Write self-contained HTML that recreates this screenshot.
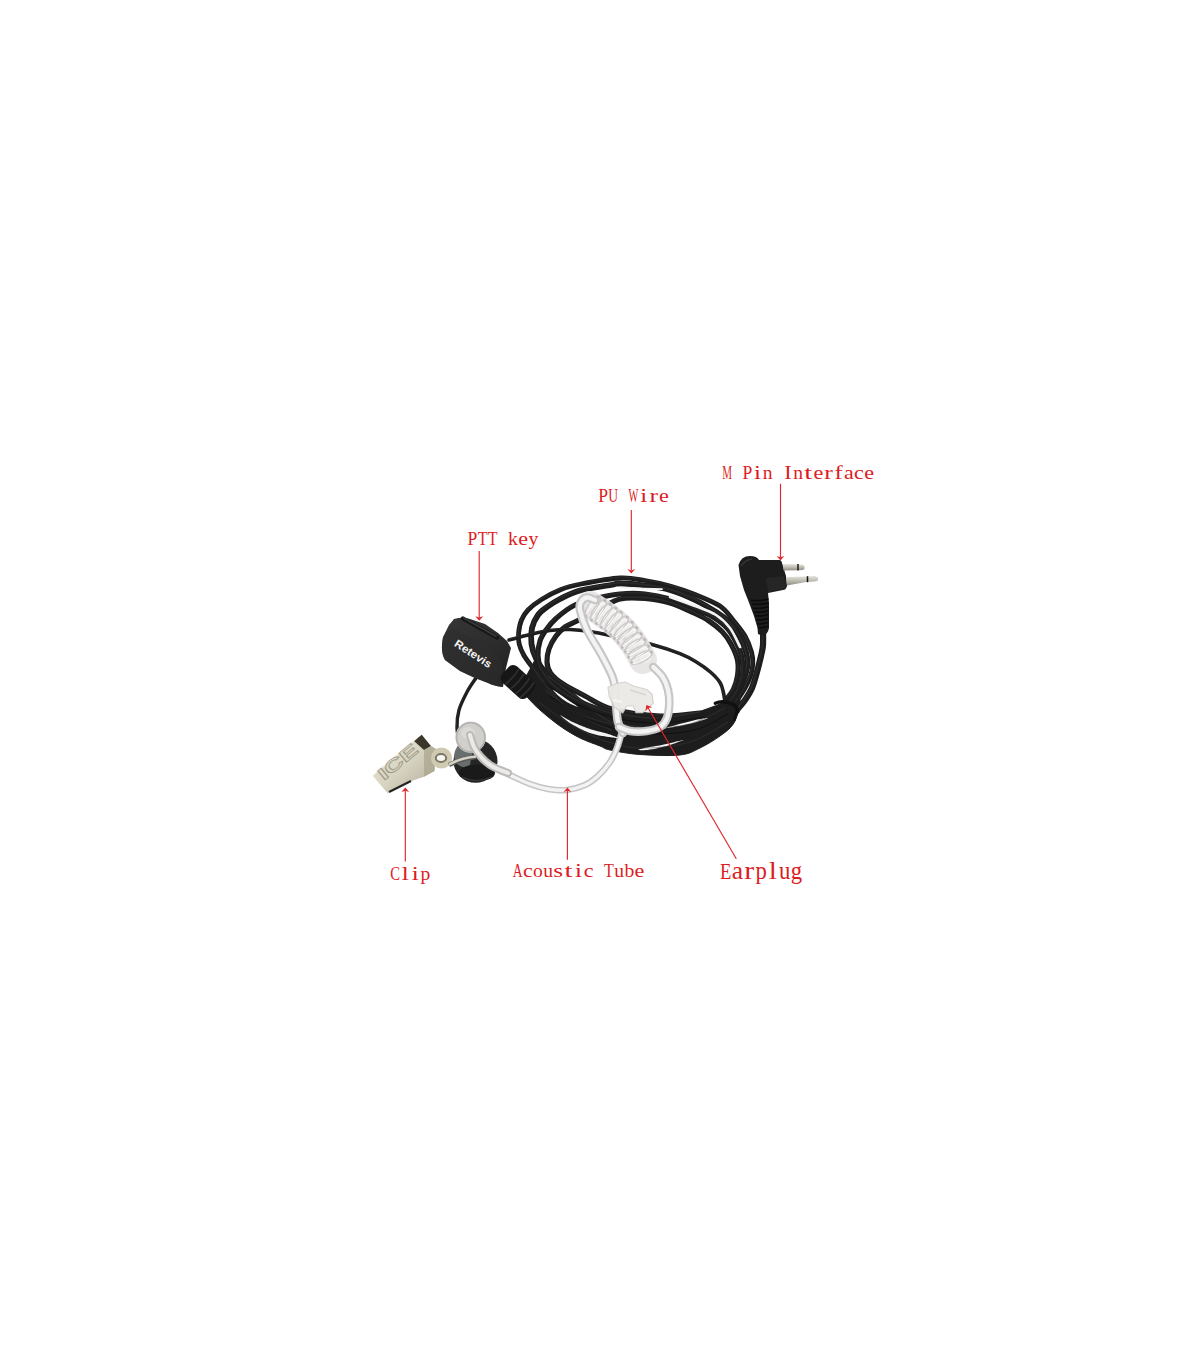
<!DOCTYPE html>
<html><head><meta charset="utf-8">
<style>
html,body{margin:0;padding:0;background:#fff;}
body{width:1200px;height:1372px;overflow:hidden;}
svg{display:block;}
.lb{font-family:"Liberation Serif",serif;fill:#dc1c24;}
.ls{font-family:"Liberation Serif",serif;fill:#e2262c;}
.ar{stroke:#e0262c;stroke-width:1.15;fill:none;}
.ah{fill:#e0262c;}
</style></head>
<body>
<svg width="1200" height="1372" viewBox="0 0 1200 1372">
<rect x="0" y="0" width="1200" height="1372" fill="#fff"/>
<g id="photo">
<path d="M476.0 678.0 C474.5 680.3 469.8 686.7 467.0 692.0 C464.2 697.3 460.7 704.0 459.0 710.0 C457.3 716.0 456.8 722.2 457.0 728.0 C457.2 733.8 459.5 742.2 460.0 745.0" fill="none" stroke="#1d1d1d" stroke-width="3.4" stroke-linecap="round" stroke-linejoin="round"/>
<path d="M476.0 678.0 C474.5 680.3 469.8 686.7 467.0 692.0 C464.2 697.3 460.7 704.0 459.0 710.0 C457.3 716.0 456.8 722.2 457.0 728.0 C457.2 733.8 459.5 742.2 460.0 745.0" fill="none" stroke="#4a4a4a" stroke-width="0.95" stroke-linecap="round" opacity="0.3" transform="translate(-0.5,-0.9)"/>
<path d="M536.0 658.0 C538.3 661.3 544.3 672.0 550.0 678.0 C555.7 684.0 563.3 689.7 570.0 694.0 C576.7 698.3 583.3 701.5 590.0 704.0 C596.7 706.5 601.7 707.5 610.0 709.0 C618.3 710.5 628.3 712.1 640.0 713.3 C651.7 714.5 667.8 717.1 680.0 716.0 C692.2 714.9 705.2 709.4 713.0 706.7 C720.8 704.0 722.8 702.3 727.0 700.0 C731.2 697.7 736.2 694.2 738.0 693.0 L741 704 C739.7 707.3 736.8 718.7 733.3 724.0 C729.8 729.3 725.5 732.0 720.0 736.0 C714.5 740.0 706.7 744.8 700.0 748.0 C693.3 751.2 690.0 753.9 680.0 755.0 C670.0 756.1 651.7 755.3 640.0 754.5 C628.3 753.7 616.7 751.4 610.0 750.0 C603.3 748.6 605.0 748.0 600.0 746.0 C595.0 744.0 586.7 741.3 580.0 738.0 C573.3 734.7 566.7 730.7 560.0 726.0 C553.3 721.3 545.3 714.7 540.0 710.0 C534.7 705.3 531.3 701.7 528.0 698.0 C524.7 694.3 521.3 689.7 520.0 688.0 Z" fill="#1d1d1d" stroke="#1d1d1d" stroke-width="1" stroke-linejoin="round"/>
<path d="M612.0 731.0 C608.3 729.3 597.0 724.5 590.0 721.0 C583.0 717.5 575.3 713.5 570.0 710.0 C564.7 706.5 562.2 704.2 558.0 700.0 C553.8 695.8 549.0 689.6 545.0 684.5 C541.0 679.4 537.5 674.3 534.0 669.5 C530.5 664.7 526.5 659.8 524.0 655.5 C521.5 651.2 520.1 647.8 519.2 644.0 C518.3 640.2 518.2 637.0 518.6 633.0 C519.0 629.0 519.9 623.8 521.5 620.0 C523.1 616.2 524.7 613.4 528.0 610.0 C531.3 606.6 536.0 602.9 541.5 599.5 C547.0 596.1 554.4 592.1 561.0 589.5 C567.6 586.9 571.2 585.9 581.0 584.0 C590.8 582.1 609.3 578.6 620.0 578.0 C630.7 577.4 636.7 579.2 645.0 580.5 C653.3 581.8 661.7 583.7 670.0 586.0 C678.3 588.3 686.7 591.2 695.0 594.5 C703.3 597.8 713.7 601.8 720.0 606.0 C726.3 610.2 728.8 615.0 733.0 620.0 C737.2 625.0 741.9 630.7 745.0 636.0 C748.1 641.3 750.2 647.3 751.5 652.0 C752.8 656.7 753.0 660.0 752.8 664.0 C752.6 668.0 751.8 672.0 750.5 676.0 C749.2 680.0 747.4 683.7 745.0 688.0 C742.6 692.3 737.5 699.7 736.0 702.0" fill="none" stroke="#1d1d1d" stroke-width="4.8" stroke-linecap="round" stroke-linejoin="round"/>
<path d="M612.0 731.0 C608.3 729.3 597.0 724.5 590.0 721.0 C583.0 717.5 575.3 713.5 570.0 710.0 C564.7 706.5 562.2 704.2 558.0 700.0 C553.8 695.8 549.0 689.6 545.0 684.5 C541.0 679.4 537.5 674.3 534.0 669.5 C530.5 664.7 526.5 659.8 524.0 655.5 C521.5 651.2 520.1 647.8 519.2 644.0 C518.3 640.2 518.2 637.0 518.6 633.0 C519.0 629.0 519.9 623.8 521.5 620.0 C523.1 616.2 524.7 613.4 528.0 610.0 C531.3 606.6 536.0 602.9 541.5 599.5 C547.0 596.1 554.4 592.1 561.0 589.5 C567.6 586.9 571.2 585.9 581.0 584.0 C590.8 582.1 609.3 578.6 620.0 578.0 C630.7 577.4 636.7 579.2 645.0 580.5 C653.3 581.8 661.7 583.7 670.0 586.0 C678.3 588.3 686.7 591.2 695.0 594.5 C703.3 597.8 713.7 601.8 720.0 606.0 C726.3 610.2 728.8 615.0 733.0 620.0 C737.2 625.0 741.9 630.7 745.0 636.0 C748.1 641.3 750.2 647.3 751.5 652.0 C752.8 656.7 753.0 660.0 752.8 664.0 C752.6 668.0 751.8 672.0 750.5 676.0 C749.2 680.0 747.4 683.7 745.0 688.0 C742.6 692.3 737.5 699.7 736.0 702.0" fill="none" stroke="#4a4a4a" stroke-width="1.34" stroke-linecap="round" opacity="0.3" transform="translate(-0.5,-0.9)"/>
<path d="M650.0 729.0 C643.7 728.0 622.0 726.3 612.0 723.0 C602.0 719.7 595.7 712.8 590.0 709.0 C584.3 705.2 582.5 703.6 578.0 700.0 C573.5 696.4 568.3 692.0 563.0 687.5 C557.7 683.0 550.5 677.8 546.0 673.0 C541.5 668.2 538.4 663.3 536.0 658.5 C533.6 653.7 532.2 649.1 531.5 644.0 C530.8 638.9 530.9 632.8 532.0 628.0 C533.1 623.2 535.5 618.5 538.0 615.0 C540.5 611.5 543.3 609.7 547.0 607.0 C550.7 604.3 554.5 601.8 560.0 599.0 C565.5 596.2 571.5 592.8 580.0 590.5 C588.5 588.2 604.3 586.2 611.0 585.0 C617.7 583.8 614.3 583.4 620.0 583.5 C625.7 583.6 636.7 584.4 645.0 585.5 C653.3 586.6 661.7 587.6 670.0 590.0 C678.3 592.4 687.3 596.3 695.0 600.0 C702.7 603.7 710.5 608.5 716.0 612.0 C721.5 615.5 724.0 616.8 728.0 621.0 C732.0 625.2 737.0 631.8 740.0 637.0 C743.0 642.2 744.8 647.5 746.0 652.0 C747.2 656.5 747.7 660.0 747.5 664.0 C747.3 668.0 746.2 672.0 745.0 676.0 C743.8 680.0 742.2 684.0 740.0 688.0 C737.8 692.0 733.3 698.0 732.0 700.0" fill="none" stroke="#1d1d1d" stroke-width="5.8" stroke-linecap="round" stroke-linejoin="round"/>
<path d="M650.0 729.0 C643.7 728.0 622.0 726.3 612.0 723.0 C602.0 719.7 595.7 712.8 590.0 709.0 C584.3 705.2 582.5 703.6 578.0 700.0 C573.5 696.4 568.3 692.0 563.0 687.5 C557.7 683.0 550.5 677.8 546.0 673.0 C541.5 668.2 538.4 663.3 536.0 658.5 C533.6 653.7 532.2 649.1 531.5 644.0 C530.8 638.9 530.9 632.8 532.0 628.0 C533.1 623.2 535.5 618.5 538.0 615.0 C540.5 611.5 543.3 609.7 547.0 607.0 C550.7 604.3 554.5 601.8 560.0 599.0 C565.5 596.2 571.5 592.8 580.0 590.5 C588.5 588.2 604.3 586.2 611.0 585.0 C617.7 583.8 614.3 583.4 620.0 583.5 C625.7 583.6 636.7 584.4 645.0 585.5 C653.3 586.6 661.7 587.6 670.0 590.0 C678.3 592.4 687.3 596.3 695.0 600.0 C702.7 603.7 710.5 608.5 716.0 612.0 C721.5 615.5 724.0 616.8 728.0 621.0 C732.0 625.2 737.0 631.8 740.0 637.0 C743.0 642.2 744.8 647.5 746.0 652.0 C747.2 656.5 747.7 660.0 747.5 664.0 C747.3 668.0 746.2 672.0 745.0 676.0 C743.8 680.0 742.2 684.0 740.0 688.0 C737.8 692.0 733.3 698.0 732.0 700.0" fill="none" stroke="#4a4a4a" stroke-width="1.62" stroke-linecap="round" opacity="0.3" transform="translate(-0.5,-0.9)"/>
<path d="M650.0 719.0 C643.7 718.2 623.7 716.8 612.0 714.0 C600.3 711.2 589.3 706.3 580.0 702.0 C570.7 697.7 562.5 693.5 556.0 688.0 C549.5 682.5 544.0 674.5 541.0 669.0 C538.0 663.5 538.2 659.7 538.0 655.0 C537.8 650.3 538.7 645.2 540.0 641.0 C541.3 636.8 543.3 633.8 546.0 630.0 C548.7 626.2 551.3 622.6 556.0 618.5 C560.7 614.4 566.7 609.0 574.0 605.5 C581.3 602.0 592.3 599.4 600.0 597.5 C607.7 595.6 612.5 594.6 620.0 594.0 C627.5 593.4 636.7 593.2 645.0 594.0 C653.3 594.8 661.7 596.5 670.0 599.0 C678.3 601.5 687.8 606.0 695.0 609.0 C702.2 612.0 707.7 613.8 713.0 617.0 C718.3 620.2 723.2 623.8 727.0 628.0 C730.8 632.2 733.5 637.0 736.0 642.0 C738.5 647.0 740.9 652.3 742.0 658.0 C743.1 663.7 743.2 670.7 742.5 676.0 C741.8 681.3 740.1 685.7 738.0 690.0 C735.9 694.3 731.3 700.0 730.0 702.0" fill="none" stroke="#1d1d1d" stroke-width="5.2" stroke-linecap="round" stroke-linejoin="round"/>
<path d="M650.0 719.0 C643.7 718.2 623.7 716.8 612.0 714.0 C600.3 711.2 589.3 706.3 580.0 702.0 C570.7 697.7 562.5 693.5 556.0 688.0 C549.5 682.5 544.0 674.5 541.0 669.0 C538.0 663.5 538.2 659.7 538.0 655.0 C537.8 650.3 538.7 645.2 540.0 641.0 C541.3 636.8 543.3 633.8 546.0 630.0 C548.7 626.2 551.3 622.6 556.0 618.5 C560.7 614.4 566.7 609.0 574.0 605.5 C581.3 602.0 592.3 599.4 600.0 597.5 C607.7 595.6 612.5 594.6 620.0 594.0 C627.5 593.4 636.7 593.2 645.0 594.0 C653.3 594.8 661.7 596.5 670.0 599.0 C678.3 601.5 687.8 606.0 695.0 609.0 C702.2 612.0 707.7 613.8 713.0 617.0 C718.3 620.2 723.2 623.8 727.0 628.0 C730.8 632.2 733.5 637.0 736.0 642.0 C738.5 647.0 740.9 652.3 742.0 658.0 C743.1 663.7 743.2 670.7 742.5 676.0 C741.8 681.3 740.1 685.7 738.0 690.0 C735.9 694.3 731.3 700.0 730.0 702.0" fill="none" stroke="#4a4a4a" stroke-width="1.46" stroke-linecap="round" opacity="0.3" transform="translate(-0.5,-0.9)"/>
<path d="M700.0 713.0 C693.3 713.5 674.7 716.7 660.0 716.0 C645.3 715.3 624.5 712.3 612.0 709.0 C599.5 705.7 593.2 700.2 585.0 696.0 C576.8 691.8 568.8 687.8 563.0 684.0 C557.2 680.2 553.2 676.7 550.5 673.0 C547.8 669.3 547.2 666.0 547.0 662.0 C546.8 658.0 547.5 653.3 549.0 649.0 C550.5 644.7 553.3 639.7 556.0 636.0 C558.7 632.3 561.3 629.6 565.0 627.0 C568.7 624.4 572.2 623.5 578.0 620.5 C583.8 617.5 593.0 612.6 600.0 609.0 C607.0 605.4 612.5 600.8 620.0 599.0 C627.5 597.2 636.7 597.8 645.0 598.5 C653.3 599.2 661.7 600.5 670.0 603.0 C678.3 605.5 688.5 610.5 695.0 613.5 C701.5 616.5 704.5 618.0 709.0 621.0 C713.5 624.0 718.3 627.7 722.0 631.5 C725.7 635.3 728.4 639.2 731.0 644.0 C733.6 648.8 736.4 654.7 737.5 660.0 C738.6 665.3 738.2 671.2 737.5 676.0 C736.8 680.8 735.4 685.0 733.5 689.0 C731.6 693.0 727.2 698.2 726.0 700.0" fill="none" stroke="#1d1d1d" stroke-width="5.2" stroke-linecap="round" stroke-linejoin="round"/>
<path d="M700.0 713.0 C693.3 713.5 674.7 716.7 660.0 716.0 C645.3 715.3 624.5 712.3 612.0 709.0 C599.5 705.7 593.2 700.2 585.0 696.0 C576.8 691.8 568.8 687.8 563.0 684.0 C557.2 680.2 553.2 676.7 550.5 673.0 C547.8 669.3 547.2 666.0 547.0 662.0 C546.8 658.0 547.5 653.3 549.0 649.0 C550.5 644.7 553.3 639.7 556.0 636.0 C558.7 632.3 561.3 629.6 565.0 627.0 C568.7 624.4 572.2 623.5 578.0 620.5 C583.8 617.5 593.0 612.6 600.0 609.0 C607.0 605.4 612.5 600.8 620.0 599.0 C627.5 597.2 636.7 597.8 645.0 598.5 C653.3 599.2 661.7 600.5 670.0 603.0 C678.3 605.5 688.5 610.5 695.0 613.5 C701.5 616.5 704.5 618.0 709.0 621.0 C713.5 624.0 718.3 627.7 722.0 631.5 C725.7 635.3 728.4 639.2 731.0 644.0 C733.6 648.8 736.4 654.7 737.5 660.0 C738.6 665.3 738.2 671.2 737.5 676.0 C736.8 680.8 735.4 685.0 733.5 689.0 C731.6 693.0 727.2 698.2 726.0 700.0" fill="none" stroke="#4a4a4a" stroke-width="1.46" stroke-linecap="round" opacity="0.3" transform="translate(-0.5,-0.9)"/>
<path d="M620.0 587.5 C623.3 587.7 633.0 588.2 640.0 588.5 C647.0 588.8 658.3 589.1 662.0 589.2" fill="none" stroke="#f4f4f4" stroke-width="1.8" stroke-linecap="round"/>
<path d="M670.0 597.0 C674.2 598.5 687.3 603.0 695.0 606.0 C702.7 609.0 710.2 611.3 716.0 615.0 C721.8 618.7 726.0 622.7 730.0 628.0 C734.0 633.3 738.3 643.8 740.0 647.0" fill="none" stroke="#f4f4f4" stroke-width="2.6" stroke-linecap="round"/>
<path d="M509.0 640.0 C512.5 639.1 523.2 636.1 530.0 634.5 C536.8 632.9 543.3 631.3 550.0 630.5 C556.7 629.7 563.3 629.3 570.0 629.5 C576.7 629.7 582.5 630.3 590.0 631.5 C597.5 632.7 604.7 634.3 615.0 636.5 C625.3 638.7 641.2 641.6 652.0 644.5 C662.8 647.4 672.7 650.8 680.0 653.7 C687.3 656.6 690.9 658.7 696.0 661.7 C701.1 664.8 706.4 668.5 710.4 672.0 C714.4 675.5 717.9 679.2 720.0 682.5 C722.1 685.8 722.5 688.8 723.3 692.0 C724.1 695.2 724.7 700.3 725.0 702.0" fill="none" stroke="#1d1d1d" stroke-width="3.6" stroke-linecap="round" stroke-linejoin="round"/>
<path d="M509.0 640.0 C512.5 639.1 523.2 636.1 530.0 634.5 C536.8 632.9 543.3 631.3 550.0 630.5 C556.7 629.7 563.3 629.3 570.0 629.5 C576.7 629.7 582.5 630.3 590.0 631.5 C597.5 632.7 604.7 634.3 615.0 636.5 C625.3 638.7 641.2 641.6 652.0 644.5 C662.8 647.4 672.7 650.8 680.0 653.7 C687.3 656.6 690.9 658.7 696.0 661.7 C701.1 664.8 706.4 668.5 710.4 672.0 C714.4 675.5 717.9 679.2 720.0 682.5 C722.1 685.8 722.5 688.8 723.3 692.0 C724.1 695.2 724.7 700.3 725.0 702.0" fill="none" stroke="#4a4a4a" stroke-width="1.01" stroke-linecap="round" opacity="0.3" transform="translate(-0.5,-0.9)"/>
<path d="M763.0 628.0 C763.0 630.8 763.3 640.3 763.0 645.0 C762.7 649.7 762.0 651.5 761.0 656.0 C760.0 660.5 758.5 666.7 757.0 672.0 C755.5 677.3 754.0 683.3 752.0 688.0 C750.0 692.7 747.5 696.3 745.0 700.0 C742.5 703.7 738.3 708.3 737.0 710.0" fill="none" stroke="#1d1d1d" stroke-width="6.2" stroke-linecap="round" stroke-linejoin="round"/>
<path d="M763.0 628.0 C763.0 630.8 763.3 640.3 763.0 645.0 C762.7 649.7 762.0 651.5 761.0 656.0 C760.0 660.5 758.5 666.7 757.0 672.0 C755.5 677.3 754.0 683.3 752.0 688.0 C750.0 692.7 747.5 696.3 745.0 700.0 C742.5 703.7 738.3 708.3 737.0 710.0" fill="none" stroke="#4a4a4a" stroke-width="1.74" stroke-linecap="round" opacity="0.3" transform="translate(-0.5,-0.9)"/>
<path d="M553.0 690.0 L553.5 690.7 L554.2 691.4 L555.0 692.3 L555.9 693.3 L557.0 694.4 L558.1 695.4 L559.3 696.5 L560.5 697.5 L561.7 698.5 L563.0 699.4 L564.2 700.3 L565.3 701.0 L566.4 701.7 L567.6 702.4 L568.8 703.1 L570.0 703.7 L571.2 704.3 L572.4 704.8 L573.6 705.3 L574.7 705.8 L575.7 706.2 L576.6 706.5 L577.4 706.8 L578.0 707.0 L578.0 707.0 L577.5 706.5 L576.8 706.0 L576.1 705.4 L575.2 704.8 L574.2 704.1 L573.2 703.4 L572.1 702.7 L571.0 702.0 L569.9 701.2 L568.8 700.4 L567.7 699.7 L566.7 699.0 L565.7 698.2 L564.5 697.3 L563.3 696.4 L562.0 695.5 L560.7 694.6 L559.4 693.7 L558.1 692.9 L556.9 692.1 L555.7 691.4 L554.7 690.8 L553.8 690.3 L553.0 690.0Z" fill="#f4f4f4"/>
<path d="M560.0 715.0 L560.5 715.5 L561.1 716.0 L561.8 716.7 L562.6 717.4 L563.5 718.2 L564.5 719.0 L565.6 719.8 L566.7 720.7 L567.8 721.6 L569.0 722.4 L570.2 723.2 L571.5 724.0 L572.7 724.8 L574.1 725.6 L575.5 726.3 L577.0 727.1 L578.5 727.9 L580.1 728.7 L581.7 729.4 L583.3 730.2 L584.8 730.9 L586.4 731.5 L587.9 732.2 L589.4 732.7 L590.8 733.2 L592.3 733.7 L593.7 734.1 L595.1 734.5 L596.5 734.8 L597.9 735.2 L599.3 735.4 L600.6 735.7 L601.9 735.9 L603.2 736.1 L604.4 736.3 L605.6 736.5 L606.9 736.7 L608.2 736.9 L609.5 737.1 L610.8 737.3 L612.1 737.5 L613.3 737.6 L614.5 737.8 L615.6 737.9 L616.6 737.9 L617.6 738.0 L618.3 738.0 L619.0 738.0 L619.0 738.0 L618.4 737.7 L617.7 737.4 L616.8 737.0 L615.9 736.7 L614.8 736.3 L613.7 735.9 L612.5 735.5 L611.3 735.1 L610.1 734.6 L608.8 734.2 L607.6 733.8 L606.4 733.5 L605.1 733.1 L603.9 732.7 L602.6 732.4 L601.3 732.1 L600.0 731.8 L598.7 731.5 L597.4 731.2 L596.1 730.8 L594.7 730.5 L593.4 730.1 L592.0 729.7 L590.6 729.3 L589.2 728.8 L587.7 728.2 L586.2 727.7 L584.6 727.1 L583.0 726.5 L581.4 725.8 L579.8 725.2 L578.3 724.5 L576.7 723.8 L575.3 723.2 L573.9 722.6 L572.5 722.0 L571.3 721.4 L570.0 720.7 L568.8 720.1 L567.6 719.4 L566.4 718.7 L565.2 718.0 L564.1 717.4 L563.1 716.7 L562.2 716.2 L561.4 715.7 L560.6 715.3 L560.0 715.0Z" fill="#f4f4f4"/>
<path d="M638.0 750.0 L639.1 750.1 L640.4 750.2 L642.0 750.2 L643.8 750.2 L645.7 750.1 L647.7 749.9 L649.8 749.6 L651.9 749.3 L654.1 748.9 L656.2 748.5 L658.3 748.1 L660.2 747.6 L662.3 747.1 L664.4 746.5 L666.7 745.9 L669.0 745.2 L671.3 744.4 L673.6 743.7 L675.8 743.0 L677.8 742.3 L679.7 741.6 L681.4 741.0 L682.9 740.4 L684.0 740.0 L684.0 740.0 L682.8 740.2 L681.3 740.5 L679.5 740.9 L677.6 741.3 L675.4 741.8 L673.2 742.4 L670.9 742.9 L668.5 743.5 L666.2 744.0 L663.9 744.5 L661.7 745.0 L659.8 745.4 L657.8 745.7 L655.7 746.1 L653.6 746.4 L651.5 746.7 L649.4 747.1 L647.3 747.4 L645.3 747.8 L643.5 748.2 L641.8 748.7 L640.3 749.1 L639.0 749.6 L638.0 750.0Z" fill="#f4f4f4"/>
<path d="M664.0 728.5 L665.2 728.4 L666.7 728.1 L668.5 727.9 L670.5 727.6 L672.6 727.2 L674.9 726.8 L677.3 726.3 L679.6 725.9 L681.9 725.4 L684.2 725.0 L686.3 724.5 L688.3 724.1 L690.1 723.7 L692.1 723.2 L694.0 722.8 L696.0 722.2 L697.9 721.7 L699.7 721.1 L701.5 720.6 L703.1 720.0 L704.6 719.4 L706.0 718.9 L707.1 718.4 L708.0 718.0 L708.0 718.0 L707.0 718.1 L705.8 718.2 L704.4 718.3 L702.8 718.6 L701.1 718.9 L699.3 719.2 L697.4 719.6 L695.4 720.0 L693.5 720.4 L691.5 720.9 L689.6 721.4 L687.7 721.9 L685.8 722.4 L683.7 722.9 L681.5 723.5 L679.2 724.1 L676.9 724.7 L674.6 725.4 L672.4 726.0 L670.3 726.6 L668.3 727.1 L666.6 727.6 L665.1 728.1 L664.0 728.5Z" fill="#f4f4f4"/>
<path d="M545.0 690.0 C550.0 693.7 563.8 706.3 575.0 712.0 C586.2 717.7 599.5 721.3 612.0 724.0 C624.5 726.7 637.0 728.0 650.0 728.0 C663.0 728.0 677.5 727.3 690.0 724.0 C702.5 720.7 719.2 710.7 725.0 708.0" fill="none" stroke="#3c3c3c" stroke-width="1.1" opacity="0.5"/>
<path d="M540.0 703.0 C545.0 706.5 559.2 717.7 570.0 724.0 C580.8 730.3 593.3 737.0 605.0 741.0 C616.7 745.0 625.8 747.8 640.0 748.0 C654.2 748.2 675.3 746.3 690.0 742.0 C704.7 737.7 721.7 725.3 728.0 722.0" fill="none" stroke="#3c3c3c" stroke-width="1.1" opacity="0.5"/>
<path d="M548.0 676.0 C553.3 679.8 568.0 692.8 580.0 699.0 C592.0 705.2 606.7 709.8 620.0 713.0 C633.3 716.2 646.7 718.2 660.0 718.0 C673.3 717.8 693.3 713.0 700.0 712.0" fill="none" stroke="#3c3c3c" stroke-width="1.1" opacity="0.5"/>
<path d="M550.0 696.0 C555.0 699.2 569.7 709.7 580.0 715.0 C590.3 720.3 600.3 724.8 612.0 728.0 C623.7 731.2 636.2 733.7 650.0 734.0 C663.8 734.3 682.0 733.3 695.0 730.0 C708.0 726.7 722.5 716.7 728.0 714.0" fill="none" stroke="#0c0c0c" stroke-width="1.0" opacity="0.8"/>
<path d="M545.0 683.0 C550.5 686.7 565.5 699.0 578.0 705.0 C590.5 711.0 606.3 716.0 620.0 719.0 C633.7 722.0 645.8 723.3 660.0 723.0 C674.2 722.7 697.5 718.0 705.0 717.0" fill="none" stroke="#0c0c0c" stroke-width="1.0" opacity="0.8"/>
<path d="M715.3 703.3 Q725 699 736 706.5 L737.7 712" stroke="#101010" stroke-width="3.4" fill="none" stroke-linecap="round"/>
<path d="M736.5 712 L734.5 720" stroke="#101010" stroke-width="2.6" stroke-linecap="round"/>
<defs><linearGradient id="pttg" x1="0" y1="0" x2="0.8" y2="1"><stop offset="0" stop-color="#363636"/><stop offset="0.6" stop-color="#2c2c2c"/><stop offset="1" stop-color="#222"/></linearGradient></defs>
<path d="M454 619 Q463 616 470 619 L485 624 L498 633 L507 641 L511 648 L506 668 L503 687 Q494 686 488 683 L475 678 L460 671 L445 660 Q440 652 443 637 L449 625 Z" fill="url(#pttg)"/>
<path d="M452 628 L482 643 L495 652 L502 664 L503 687 Q494 686 488 683 L475 678 L460 671 L445 660 Q440 652 443 637 Z" fill="#2d2d2d" opacity="0.6"/>
<path d="M463 618.5 L497 637.5" stroke="#151515" stroke-width="4.2" stroke-linecap="round"/>
<path d="M464 618.3 L496 636.3" stroke="#3a3a3a" stroke-width="1.8" stroke-linecap="round"/>
<text x="0" y="0" transform="translate(453.5,645.5) rotate(33)" font-family="Liberation Sans" font-weight="bold" font-size="11" fill="#f2f2f2" textLength="42" lengthAdjust="spacingAndGlyphs">Retevis</text>
<g transform="translate(518,682) rotate(42)"><rect x="-17" y="-11" width="34" height="22" rx="6" fill="#161616"/><path d="M-8 -10.5 Q-6 0 -8 10.5" stroke="#2e2e2e" stroke-width="1.8" fill="none"/><path d="M-1 -10.5 Q1 0 -1 10.5" stroke="#2e2e2e" stroke-width="1.8" fill="none"/><path d="M6 -10.5 Q8 0 6 10.5" stroke="#2e2e2e" stroke-width="1.8" fill="none"/><path d="M12 -10.5 Q14 0 12 10.5" stroke="#2e2e2e" stroke-width="1.8" fill="none"/></g>
<path d="M738.5 565 Q741 556 750 556 Q757 556 759 560 L780 560 Q782 561 782 563 L786 576 L787 586 Q786 590 783 590 L768 593 L769 603 L769 628 Q768 634 763 636 L758 634 L757.5 628 L754 616 L748 600 L744 590 L740 576 Z" fill="#1d1d1d"/>
<path d="M741 566 Q745 560 752 559" stroke="#3a3a3a" stroke-width="1.5" fill="none" opacity="0.8"/>
<path d="M766 578 L784 576 L786 588 L768 592 Z" fill="#262626"/>
<path d="M751.0 600.2 Q760 601.2 768.5 599.0" stroke="#0a0a0a" stroke-width="1.5" fill="none"/>
<path d="M752.0 604.1 Q760 605.1 768.5 602.9" stroke="#0a0a0a" stroke-width="1.5" fill="none"/>
<path d="M753.0 608.0 Q760 609.0 768.5 606.8" stroke="#0a0a0a" stroke-width="1.5" fill="none"/>
<path d="M754.0 611.9 Q760 612.9 768.5 610.7" stroke="#0a0a0a" stroke-width="1.5" fill="none"/>
<path d="M755.1 615.8 Q760 616.8 768.5 614.6" stroke="#0a0a0a" stroke-width="1.5" fill="none"/>
<path d="M756.1 619.7 Q760 620.7 768.5 618.5" stroke="#0a0a0a" stroke-width="1.5" fill="none"/>
<path d="M757.1 623.6 Q760 624.6 768.5 622.4" stroke="#0a0a0a" stroke-width="1.5" fill="none"/>
<path d="M758.1 627.5 Q760 628.5 768.5 626.3" stroke="#0a0a0a" stroke-width="1.5" fill="none"/>
<defs><linearGradient id="ping" x1="0" y1="0" x2="0" y2="1"><stop offset="0" stop-color="#e4e3dc"/><stop offset="0.45" stop-color="#c3c1b6"/><stop offset="1" stop-color="#8f8d84"/></linearGradient></defs>
<path d="M783 564 L797 564.3 L803 564.8 L804.5 566.5 L804.5 569 L803 570 L797 570.2 L783.5 570.5 Z" fill="url(#ping)"/>
<path d="M798 564 L798 570.5" stroke="#111" stroke-width="1.4"/>
<path d="M786.5 577 L806 576.5 L815 576 L818 577.5 L818 580.5 L815 581.5 L806 582 L787 585.5 Z" fill="url(#ping)"/>
<path d="M807.5 576.2 L807.5 582.2" stroke="#111" stroke-width="1.5"/>
<ellipse cx="475.5" cy="761" rx="22" ry="21.8" fill="#262626"/>
<path d="M454 756 Q455 744 466 740 L480 742 Q470 752 470 768 Q460 768 455 762 Z" fill="#6c7272" opacity="0.95"/>
<ellipse cx="477" cy="773" rx="18" ry="8.5" fill="#1a1a1a"/>
<path d="M462 777 Q476 784 492 777" stroke="#3a3a3a" stroke-width="1.2" fill="none"/>
<defs><linearGradient id="clipg" x1="0" y1="0" x2="1" y2="1"><stop offset="0" stop-color="#ebe8dc"/><stop offset="0.5" stop-color="#d9d5c3"/><stop offset="1" stop-color="#aeaa95"/></linearGradient></defs>
<path d="M372.7 775.7 L421.7 734.8 L429.8 745.3 L436 749 L434.5 771 L424 776.8 L410 781.5 L387.8 793.2 Z" fill="url(#clipg)"/>
<path d="M414 741 L421.7 734.8 L431 746 L424 750 Z" fill="#3a362b"/>
<path d="M424 750 L431 746 L436 749 L434.5 771 L424 776.8 Z" fill="#a9a48c" opacity="0.7"/>
<path d="M376 772 L417 738" stroke="#f2efe0" stroke-width="1.2" opacity="0.8"/>
<text x="0" y="0" transform="translate(384,781) rotate(-40)" font-family="Liberation Sans" font-size="17" font-weight="bold" fill="none" stroke="#8f8a76" stroke-width="0.8" opacity="0.8" textLength="46" lengthAdjust="spacingAndGlyphs">ICE</text>
<path d="M389 792 L411 781" stroke="#262420" stroke-width="2.2"/>
<circle cx="441.5" cy="758" r="10.5" fill="#cfcab2"/>
<ellipse cx="441" cy="758" rx="5.2" ry="4" fill="#f6f6f2" stroke="#7c7764" stroke-width="2"/>
<path d="M449 765 Q462 758 476 757" stroke="#5a5a58" stroke-width="4.6" fill="none"/>
<path d="M449 764.5 Q462 757.5 476 756.5" stroke="#d6d3c6" stroke-width="2.6" fill="none"/>
<ellipse cx="470.7" cy="737.2" rx="15.3" ry="15.6" fill="#d1cfcc"/>
<ellipse cx="470.7" cy="737.2" rx="14.2" ry="14.5" fill="none" stroke="#b3b1ad" stroke-width="1.6"/>
<ellipse cx="468" cy="733" rx="7" ry="6" fill="#dedcd9" opacity="0.8"/>
<circle cx="472" cy="739" r="3.6" fill="#bdbbb8"/>
<path d="M590.0 605.0 C592.5 606.7 599.8 611.2 605.0 615.0 C610.2 618.8 616.2 623.2 621.0 628.0 C625.8 632.8 630.3 638.7 634.0 644.0 C637.7 649.3 641.5 657.3 643.0 660.0" stroke="#e7e4e4" stroke-width="28" stroke-linecap="round" fill="none" opacity="0.96"/>
<path d="M590.0 605.0 C592.5 606.7 599.8 611.2 605.0 615.0 C610.2 618.8 616.2 623.2 621.0 628.0 C625.8 632.8 630.3 638.7 634.0 644.0 C637.7 649.3 641.5 657.3 643.0 660.0" stroke="#f2f0f0" stroke-width="11" stroke-linecap="round" fill="none" opacity="0.7" transform="translate(2.5,-2.5)"/>
<ellipse cx="592.5" cy="606.6" rx="12.6" ry="4.4" transform="rotate(122.6 592.5 606.6)" fill="none" stroke="#cdc8c8" stroke-width="1.4"/>
<ellipse cx="593.2" cy="605.7" rx="10.1" ry="2.3" transform="rotate(122.6 592.5 606.6)" fill="none" stroke="#faf9f9" stroke-width="1.2" opacity="0.85"/>
<circle cx="586.5" cy="615.9" r="1.1" fill="#8a8585" opacity="0.5"/>
<circle cx="598.4" cy="597.3" r="1.1" fill="#8a8585" opacity="0.5"/>
<ellipse cx="598.2" cy="610.3" rx="12.7" ry="4.4" transform="rotate(123.4 598.2 610.3)" fill="none" stroke="#cdc8c8" stroke-width="1.4"/>
<ellipse cx="598.9" cy="609.4" rx="10.2" ry="2.3" transform="rotate(123.4 598.2 610.3)" fill="none" stroke="#faf9f9" stroke-width="1.2" opacity="0.85"/>
<circle cx="592.0" cy="619.7" r="1.1" fill="#8a8585" opacity="0.5"/>
<circle cx="604.4" cy="600.9" r="1.1" fill="#8a8585" opacity="0.5"/>
<ellipse cx="603.4" cy="613.8" rx="12.9" ry="4.4" transform="rotate(125.4 603.4 613.8)" fill="none" stroke="#cdc8c8" stroke-width="1.4"/>
<ellipse cx="604.1" cy="612.9" rx="10.4" ry="2.3" transform="rotate(125.4 603.4 613.8)" fill="none" stroke="#faf9f9" stroke-width="1.2" opacity="0.85"/>
<circle cx="596.8" cy="623.1" r="1.1" fill="#8a8585" opacity="0.5"/>
<circle cx="610.0" cy="604.6" r="1.1" fill="#8a8585" opacity="0.5"/>
<ellipse cx="608.7" cy="617.8" rx="13.0" ry="4.4" transform="rotate(126.8 608.7 617.8)" fill="none" stroke="#cdc8c8" stroke-width="1.4"/>
<ellipse cx="609.4" cy="616.9" rx="10.5" ry="2.3" transform="rotate(126.8 608.7 617.8)" fill="none" stroke="#faf9f9" stroke-width="1.2" opacity="0.85"/>
<circle cx="601.8" cy="627.0" r="1.1" fill="#8a8585" opacity="0.5"/>
<circle cx="615.6" cy="608.6" r="1.1" fill="#8a8585" opacity="0.5"/>
<ellipse cx="613.7" cy="621.6" rx="13.1" ry="4.4" transform="rotate(128.5 613.7 621.6)" fill="none" stroke="#cdc8c8" stroke-width="1.4"/>
<ellipse cx="614.4" cy="620.7" rx="10.6" ry="2.3" transform="rotate(128.5 613.7 621.6)" fill="none" stroke="#faf9f9" stroke-width="1.2" opacity="0.85"/>
<circle cx="606.4" cy="630.7" r="1.1" fill="#8a8585" opacity="0.5"/>
<circle cx="620.9" cy="612.5" r="1.1" fill="#8a8585" opacity="0.5"/>
<ellipse cx="619.0" cy="626.1" rx="13.1" ry="4.4" transform="rotate(132.6 619.0 626.1)" fill="none" stroke="#cdc8c8" stroke-width="1.4"/>
<ellipse cx="619.7" cy="625.2" rx="10.6" ry="2.3" transform="rotate(132.6 619.0 626.1)" fill="none" stroke="#faf9f9" stroke-width="1.2" opacity="0.85"/>
<circle cx="611.1" cy="634.6" r="1.1" fill="#8a8585" opacity="0.5"/>
<circle cx="626.9" cy="617.5" r="1.1" fill="#8a8585" opacity="0.5"/>
<ellipse cx="623.4" cy="630.5" rx="13.0" ry="4.4" transform="rotate(137.4 623.4 630.5)" fill="none" stroke="#cdc8c8" stroke-width="1.4"/>
<ellipse cx="624.1" cy="629.6" rx="10.5" ry="2.3" transform="rotate(137.4 623.4 630.5)" fill="none" stroke="#faf9f9" stroke-width="1.2" opacity="0.85"/>
<circle cx="614.9" cy="638.3" r="1.1" fill="#8a8585" opacity="0.5"/>
<circle cx="631.8" cy="622.7" r="1.1" fill="#8a8585" opacity="0.5"/>
<ellipse cx="627.5" cy="635.3" rx="12.8" ry="4.4" transform="rotate(140.9 627.5 635.3)" fill="none" stroke="#cdc8c8" stroke-width="1.4"/>
<ellipse cx="628.2" cy="634.4" rx="10.3" ry="2.3" transform="rotate(140.9 627.5 635.3)" fill="none" stroke="#faf9f9" stroke-width="1.2" opacity="0.85"/>
<circle cx="618.7" cy="642.4" r="1.1" fill="#8a8585" opacity="0.5"/>
<circle cx="636.3" cy="628.1" r="1.1" fill="#8a8585" opacity="0.5"/>
<ellipse cx="631.7" cy="640.8" rx="12.7" ry="4.4" transform="rotate(144.0 631.7 640.8)" fill="none" stroke="#cdc8c8" stroke-width="1.4"/>
<ellipse cx="632.4" cy="639.9" rx="10.2" ry="2.3" transform="rotate(144.0 631.7 640.8)" fill="none" stroke="#faf9f9" stroke-width="1.2" opacity="0.85"/>
<circle cx="622.7" cy="647.3" r="1.1" fill="#8a8585" opacity="0.5"/>
<circle cx="640.7" cy="634.2" r="1.1" fill="#8a8585" opacity="0.5"/>
<ellipse cx="635.1" cy="645.7" rx="12.5" ry="4.4" transform="rotate(147.6 635.1 645.7)" fill="none" stroke="#cdc8c8" stroke-width="1.4"/>
<ellipse cx="635.8" cy="644.8" rx="10.0" ry="2.3" transform="rotate(147.6 635.1 645.7)" fill="none" stroke="#faf9f9" stroke-width="1.2" opacity="0.85"/>
<circle cx="625.8" cy="651.6" r="1.1" fill="#8a8585" opacity="0.5"/>
<circle cx="644.4" cy="639.8" r="1.1" fill="#8a8585" opacity="0.5"/>
<ellipse cx="638.7" cy="651.8" rx="12.4" ry="4.4" transform="rotate(151.4 638.7 651.8)" fill="none" stroke="#cdc8c8" stroke-width="1.4"/>
<ellipse cx="639.4" cy="650.9" rx="9.9" ry="2.3" transform="rotate(151.4 638.7 651.8)" fill="none" stroke="#faf9f9" stroke-width="1.2" opacity="0.85"/>
<circle cx="629.1" cy="657.0" r="1.1" fill="#8a8585" opacity="0.5"/>
<circle cx="648.2" cy="646.6" r="1.1" fill="#8a8585" opacity="0.5"/>
<ellipse cx="641.6" cy="657.4" rx="12.2" ry="4.4" transform="rotate(152.5 641.6 657.4)" fill="none" stroke="#cdc8c8" stroke-width="1.4"/>
<ellipse cx="642.3" cy="656.5" rx="9.7" ry="2.3" transform="rotate(152.5 641.6 657.4)" fill="none" stroke="#faf9f9" stroke-width="1.2" opacity="0.85"/>
<circle cx="632.1" cy="662.3" r="1.1" fill="#8a8585" opacity="0.5"/>
<circle cx="651.1" cy="652.4" r="1.1" fill="#8a8585" opacity="0.5"/>
<path d="M497.0 768.5 C499.5 769.8 506.5 773.4 512.0 776.0 C517.5 778.6 524.0 781.8 530.0 784.0 C536.0 786.2 541.8 788.0 548.0 789.0 C554.2 790.0 560.8 790.7 567.0 790.0 C573.2 789.3 579.8 787.3 585.0 785.0 C590.2 782.7 593.8 779.8 598.0 776.0 C602.2 772.2 606.8 766.7 610.0 762.0 C613.2 757.3 615.2 752.5 617.0 748.0 C618.8 743.5 620.3 737.2 621.0 735.0" fill="none" stroke="#c6c6c6" stroke-width="6.6" stroke-linecap="round"/>
<path d="M497.0 768.5 C499.5 769.8 506.5 773.4 512.0 776.0 C517.5 778.6 524.0 781.8 530.0 784.0 C536.0 786.2 541.8 788.0 548.0 789.0 C554.2 790.0 560.8 790.7 567.0 790.0 C573.2 789.3 579.8 787.3 585.0 785.0 C590.2 782.7 593.8 779.8 598.0 776.0 C602.2 772.2 606.8 766.7 610.0 762.0 C613.2 757.3 615.2 752.5 617.0 748.0 C618.8 743.5 620.3 737.2 621.0 735.0" fill="none" stroke="#f3f3f3" stroke-width="3.30" stroke-linecap="round"/>
<path d="M470.0 735.0 C470.7 737.0 472.2 743.3 474.0 747.0 C475.8 750.7 478.3 754.0 481.0 757.0 C483.7 760.0 487.0 762.9 490.0 765.0 C493.0 767.1 496.0 768.2 499.0 769.5 C502.0 770.8 506.5 772.4 508.0 773.0" fill="none" stroke="#bdbbb8" stroke-width="8" stroke-linecap="round"/>
<path d="M470.0 735.0 C470.7 737.0 472.2 743.3 474.0 747.0 C475.8 750.7 478.3 754.0 481.0 757.0 C483.7 760.0 487.0 762.9 490.0 765.0 C493.0 767.1 496.0 768.2 499.0 769.5 C502.0 770.8 506.5 772.4 508.0 773.0" fill="none" stroke="#eceae8" stroke-width="4.00" stroke-linecap="round"/>
<path d="M623.0 733.0 C622.2 731.2 619.2 726.8 618.0 722.0 C616.8 717.2 616.5 709.3 616.0 704.0 C615.5 698.7 615.6 694.5 615.0 690.0 C614.4 685.5 614.8 683.0 612.5 677.0 C610.2 671.0 605.2 661.8 601.0 654.0 C596.8 646.2 590.5 637.3 587.0 630.0 C583.5 622.7 581.0 614.7 580.0 610.0 C579.0 605.3 579.8 604.1 581.0 602.0 C582.2 599.9 584.7 597.8 587.0 597.5 C589.3 597.2 593.7 599.6 595.0 600.0" fill="none" stroke="#c6c6c6" stroke-width="8.6" stroke-linecap="round"/>
<path d="M623.0 733.0 C622.2 731.2 619.2 726.8 618.0 722.0 C616.8 717.2 616.5 709.3 616.0 704.0 C615.5 698.7 615.6 694.5 615.0 690.0 C614.4 685.5 614.8 683.0 612.5 677.0 C610.2 671.0 605.2 661.8 601.0 654.0 C596.8 646.2 590.5 637.3 587.0 630.0 C583.5 622.7 581.0 614.7 580.0 610.0 C579.0 605.3 579.8 604.1 581.0 602.0 C582.2 599.9 584.7 597.8 587.0 597.5 C589.3 597.2 593.7 599.6 595.0 600.0" fill="none" stroke="#f3f3f3" stroke-width="4.30" stroke-linecap="round"/>
<path d="M619.0 727.0 C620.8 727.7 625.4 730.3 630.0 731.0 C634.6 731.7 641.7 731.7 646.7 731.0 C651.7 730.3 656.6 729.2 660.0 727.0 C663.4 724.8 665.5 722.0 667.0 718.0 C668.5 714.0 669.1 708.0 669.3 703.3 C669.5 698.6 669.1 694.4 668.0 690.0 C666.9 685.6 665.2 680.8 662.7 677.0 C660.2 673.2 654.9 668.7 653.3 667.0" fill="none" stroke="#c6c6c6" stroke-width="8.6" stroke-linecap="round"/>
<path d="M619.0 727.0 C620.8 727.7 625.4 730.3 630.0 731.0 C634.6 731.7 641.7 731.7 646.7 731.0 C651.7 730.3 656.6 729.2 660.0 727.0 C663.4 724.8 665.5 722.0 667.0 718.0 C668.5 714.0 669.1 708.0 669.3 703.3 C669.5 698.6 669.1 694.4 668.0 690.0 C666.9 685.6 665.2 680.8 662.7 677.0 C660.2 673.2 654.9 668.7 653.3 667.0" fill="none" stroke="#f3f3f3" stroke-width="4.30" stroke-linecap="round"/>
<path d="M608 687.3 Q615 683 625.3 682 L633.3 686 L646.7 689.5 L652 694 L653.3 703.3 L646.7 708.7 L642.7 712.7 L636 712.7 L633.3 706 L626.7 706 L622.7 713 L614.7 707.3 L609.3 696.7 Z" fill="#ebe9e6" stroke="#d4d1cc" stroke-width="1.2" opacity="0.95"/>
<path d="M630 690 L646 695" stroke="#d6d3ce" stroke-width="1.4" opacity="0.9"/>
<path d="M613 700 L622 702" stroke="#f7f7f5" stroke-width="2" opacity="0.9"/>
</g>
<g id="labels">
<text class="lb" x="722.18" y="478.8" font-size="18.00" textLength="9.80" lengthAdjust="spacingAndGlyphs">M</text>
<text class="lb" x="742.48" y="478.8" font-size="18.00" textLength="9.80" lengthAdjust="spacingAndGlyphs">P</text>
<text class="lb" x="754.02" y="478.8" font-size="19.80" textLength="7.00" lengthAdjust="spacingAndGlyphs">i</text>
<text class="lb" x="762.77" y="478.8" font-size="19.80" textLength="9.80" lengthAdjust="spacingAndGlyphs">n</text>
<text class="lb" x="784.27" y="478.8" font-size="18.00" textLength="7.40" lengthAdjust="spacingAndGlyphs">I</text>
<text class="lb" x="793.23" y="478.8" font-size="19.80" textLength="9.80" lengthAdjust="spacingAndGlyphs">n</text>
<text class="lb" x="804.27" y="478.8" font-size="19.80" textLength="8.00" lengthAdjust="spacingAndGlyphs">t</text>
<text class="lb" x="813.52" y="478.8" font-size="19.80" textLength="9.80" lengthAdjust="spacingAndGlyphs">e</text>
<text class="lb" x="824.28" y="478.8" font-size="19.80" textLength="8.60" lengthAdjust="spacingAndGlyphs">r</text>
<text class="lb" x="834.62" y="478.8" font-size="19.80" textLength="8.20" lengthAdjust="spacingAndGlyphs">f</text>
<text class="lb" x="843.98" y="478.8" font-size="19.80" textLength="9.80" lengthAdjust="spacingAndGlyphs">a</text>
<text class="lb" x="854.12" y="478.8" font-size="19.80" textLength="9.80" lengthAdjust="spacingAndGlyphs">c</text>
<text class="lb" x="864.27" y="478.8" font-size="19.80" textLength="9.80" lengthAdjust="spacingAndGlyphs">e</text>
<text class="lb" x="598.18" y="502" font-size="18.00" textLength="9.80" lengthAdjust="spacingAndGlyphs">P</text>
<text class="lb" x="608.33" y="502" font-size="18.00" textLength="9.80" lengthAdjust="spacingAndGlyphs">U</text>
<text class="lb" x="628.62" y="502" font-size="18.00" textLength="9.80" lengthAdjust="spacingAndGlyphs">W</text>
<text class="lb" x="640.17" y="502" font-size="19.80" textLength="7.00" lengthAdjust="spacingAndGlyphs">i</text>
<text class="lb" x="649.53" y="502" font-size="19.80" textLength="8.60" lengthAdjust="spacingAndGlyphs">r</text>
<text class="lb" x="659.08" y="502" font-size="19.80" textLength="9.80" lengthAdjust="spacingAndGlyphs">e</text>
<text class="lb" x="467.48" y="545.2" font-size="18.00" textLength="9.80" lengthAdjust="spacingAndGlyphs">P</text>
<text class="lb" x="477.63" y="545.2" font-size="18.00" textLength="9.80" lengthAdjust="spacingAndGlyphs">T</text>
<text class="lb" x="487.78" y="545.2" font-size="18.00" textLength="9.80" lengthAdjust="spacingAndGlyphs">T</text>
<text class="lb" x="508.08" y="545.2" font-size="19.80" textLength="9.80" lengthAdjust="spacingAndGlyphs">k</text>
<text class="lb" x="518.23" y="545.2" font-size="19.80" textLength="9.80" lengthAdjust="spacingAndGlyphs">e</text>
<text class="lb" x="528.38" y="545.2" font-size="19.80" textLength="9.80" lengthAdjust="spacingAndGlyphs">y</text>
<text class="lb" x="390.18" y="879.7" font-size="18.00" textLength="9.80" lengthAdjust="spacingAndGlyphs">C</text>
<text class="lb" x="401.73" y="879.7" font-size="19.80" textLength="7.00" lengthAdjust="spacingAndGlyphs">l</text>
<text class="lb" x="411.88" y="879.7" font-size="19.80" textLength="7.00" lengthAdjust="spacingAndGlyphs">i</text>
<text class="lb" x="420.62" y="879.7" font-size="19.80" textLength="9.80" lengthAdjust="spacingAndGlyphs">p</text>
<text class="lb" x="512.78" y="876.9" font-size="18.00" textLength="9.80" lengthAdjust="spacingAndGlyphs">A</text>
<text class="lb" x="522.93" y="876.9" font-size="19.80" textLength="9.80" lengthAdjust="spacingAndGlyphs">c</text>
<text class="lb" x="533.08" y="876.9" font-size="19.80" textLength="9.80" lengthAdjust="spacingAndGlyphs">o</text>
<text class="lb" x="543.23" y="876.9" font-size="19.80" textLength="9.80" lengthAdjust="spacingAndGlyphs">u</text>
<text class="lb" x="553.38" y="876.9" font-size="19.80" textLength="9.80" lengthAdjust="spacingAndGlyphs">s</text>
<text class="lb" x="564.43" y="876.9" font-size="19.80" textLength="8.00" lengthAdjust="spacingAndGlyphs">t</text>
<text class="lb" x="575.08" y="876.9" font-size="19.80" textLength="7.00" lengthAdjust="spacingAndGlyphs">i</text>
<text class="lb" x="583.83" y="876.9" font-size="19.80" textLength="9.80" lengthAdjust="spacingAndGlyphs">c</text>
<text class="lb" x="604.12" y="876.9" font-size="18.00" textLength="9.80" lengthAdjust="spacingAndGlyphs">T</text>
<text class="lb" x="614.28" y="876.9" font-size="19.80" textLength="9.80" lengthAdjust="spacingAndGlyphs">u</text>
<text class="lb" x="624.43" y="876.9" font-size="19.80" textLength="9.80" lengthAdjust="spacingAndGlyphs">b</text>
<text class="lb" x="634.58" y="876.9" font-size="19.80" textLength="9.80" lengthAdjust="spacingAndGlyphs">e</text>
<text class="lb" x="720.02" y="878.8" font-size="22.30" textLength="11.37" lengthAdjust="spacingAndGlyphs">E</text>
<text class="lb" x="731.82" y="878.8" font-size="25.42" textLength="11.37" lengthAdjust="spacingAndGlyphs">a</text>
<text class="lb" x="744.31" y="878.8" font-size="25.42" textLength="9.98" lengthAdjust="spacingAndGlyphs">r</text>
<text class="lb" x="755.42" y="878.8" font-size="25.42" textLength="11.37" lengthAdjust="spacingAndGlyphs">p</text>
<text class="lb" x="768.84" y="878.8" font-size="25.42" textLength="8.12" lengthAdjust="spacingAndGlyphs">l</text>
<text class="lb" x="779.02" y="878.8" font-size="25.42" textLength="11.37" lengthAdjust="spacingAndGlyphs">u</text>
<text class="lb" x="790.82" y="878.8" font-size="25.42" textLength="11.37" lengthAdjust="spacingAndGlyphs">g</text>
</g>
<g id="arrows">
<line class="ar" x1="780.5" y1="483.7" x2="780.5" y2="557.5"/><path class="ah" d="M776.60 555.90 L780.50 557.30 L784.40 555.90 L780.50 560.50 Z"/>
<line class="ar" x1="631.3" y1="510" x2="631.3" y2="570.6"/><path class="ah" d="M627.40 569.00 L631.30 570.40 L635.20 569.00 L631.30 573.60 Z"/>
<line class="ar" x1="479.2" y1="551" x2="479.2" y2="617.8"/><path class="ah" d="M475.30 616.20 L479.20 617.60 L483.10 616.20 L479.20 620.80 Z"/>
<line class="ar" x1="405.3" y1="861.5" x2="405.3" y2="790.5"/><path class="ah" d="M401.40 792.10 L405.30 790.70 L409.20 792.10 L405.30 787.50 Z"/>
<line class="ar" x1="567.4" y1="859.8" x2="567.4" y2="790.5"/><path class="ah" d="M563.50 792.10 L567.40 790.70 L571.30 792.10 L567.40 787.50 Z"/>
<line class="ar" x1="736.3" y1="858.7" x2="647.82" y2="707.49"/><path class="ah" d="M652.38 707.37 L648.17 708.09 L645.47 711.41 L646.30 704.90 Z"/>
</g>
</svg>
</body></html>
